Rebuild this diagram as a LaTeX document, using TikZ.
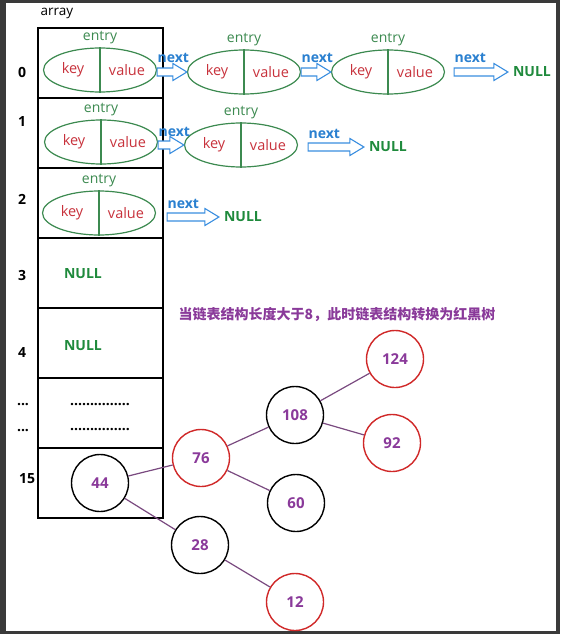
\documentclass[tikz,border=0pt]{standalone}
\usepackage{fontspec}
\setmainfont{Open Sans}
\newfontfamily\cjk{Noto Sans CJK SC}
\usetikzlibrary{shapes.geometric,positioning,calc}
\definecolor{framegray}{HTML}{3A3A3A}
\definecolor{entrygreen}{HTML}{3C8A50}
\definecolor{keyred}{HTML}{C8323C}
\definecolor{nextblue}{HTML}{2A80D0}
\definecolor{arrowblue}{HTML}{3A8EE0}
\definecolor{nullgreen}{HTML}{1F8A3C}
\definecolor{rbred}{HTML}{D02828}
\definecolor{edgepurple}{HTML}{7A4A80}
\definecolor{numpurple}{HTML}{8A3A9A}
\tikzset{cell/.style={draw,line width=1.2pt,minimum width=125pt,minimum height=70pt,
        outer sep=0pt,inner sep=0pt},
    idx/.style={font=\fontsize{14}{16}\selectfont\bfseries},
    kv/.style={ellipse,draw=entrygreen,line width=1.2pt,minimum width=113pt,
        minimum height=44pt,inner sep=0pt},
    kvline/.style={draw=entrygreen,line width=1.2pt},
    keytxt/.style={text=keyred,font=\fontsize{14.5}{16}\selectfont},
    entrytxt/.style={text=entrygreen,font=\fontsize{14}{16}\selectfont},
    nexttxt/.style={text=nextblue,inner sep=0pt,font=\fontsize{14}{16}\selectfont\bfseries},
    nextbox/.style={draw=arrowblue,line width=1.1pt,fill=white,line join=miter},
    nulltxt/.style={text=nullgreen,inner sep=1pt,font=\fontsize{14}{16}\selectfont\bfseries},
    rbnode/.style={circle,line width=1.4pt,minimum size=57pt,inner sep=0pt,
        text=numpurple,font=\fontsize{15}{16}\selectfont\bfseries},
    rbr/.style={rbnode,draw=rbred},
    rbb/.style={rbnode,draw=black},
    rbedge/.style={draw=edgepurple,line width=1.2pt}}
\newcommand\hentry[3]{%
    \node[kv] (#1) at (#2,#3) {};
    \draw[kvline] (#1.north) -- (#1.south);
    \node[keytxt] at ([xshift=-27pt]#1.center) {key};
    \node[keytxt] at ([xshift=27pt]#1.center) {value};
    \node[entrytxt] at ([yshift=9.5pt]#1.north) {entry};}
\newcommand\nextarrow[2]{%
    \draw[nextbox] let \p1=#1, \p2=#2 in
    (\x1,\y2+4pt) -- (\x2-14pt,\y2+4pt) -- (\x2-14pt,\y2+8.5pt) -- (\x2,\y2)
    -- (\x2-14pt,\y2-8.5pt) -- (\x2-14pt,\y2-4pt) -- (\x1,\y2-4pt) -- cycle
    (\x1,\y2+9pt) node[nexttxt,anchor=base west] {next};}

\begin{document}
\begin{tikzpicture}[x=1pt,y=-1pt]
\useasboundingbox (0,0) rectangle (560,634);
\fill[framegray] (0,0) rectangle (560,634);
\fill[white] (6,3) rectangle (556,631);

% array
\node[font=\fontsize{13.5}{16}\selectfont] (arr) at (57,13) {array};
\node[cell] (c0) at (100.5,63) {};
\foreach \i [remember=\i as \j (initially 0)] in {1,...,6}
    \node[cell,below=0pt of c\j] (c\i) {};
\node[idx] (i0) at (22,72) {0};
\node[idx] (i1) at (22,122) {1};
\node[idx] (i2) at (22,199) {2};
\node[idx] (i3) at (22,275) {3};
\node[idx] (i4) at (22,352) {4};
\node[idx] (id1) at (23,405) {...};
\node[idx] (id2) at (23,431) {...};
\node[idx] (i15) at (27,479) {15};
\node[nulltxt] (n3) at (83,274) {NULL};
\node[nulltxt] (n4) at (83,346) {NULL};
\node[idx] (d1) at (100,405) {...............};
\node[idx] (d2) at (100,430) {...............};

% entries
\hentry{e00}{100}{70}
\hentry{e01}{244}{72}
\hentry{e02}{388}{72}
\hentry{e10}{101}{142}
\hentry{e11}{241}{145}
\hentry{e20}{99}{213}
\node[nulltxt] (n0) at (532,72) {NULL};
\node[nulltxt] (n1) at (388,147) {NULL};
\node[nulltxt] (n2) at (243,217) {NULL};
\nextarrow{(e00.east)}{(e01.west)}
\nextarrow{(e01.east)}{(e02.west)}
\nextarrow{([xshift=9pt]e02.east)}{([xshift=-4pt]n0.west)}
\nextarrow{(e10.east)}{(e11.west)}
\nextarrow{([xshift=10pt]e11.east)}{([xshift=-4pt]n1.west)}
\nextarrow{([xshift=11pt]e20.east)}{([xshift=-4pt]n2.west)}

\node[text=numpurple,font=\fontsize{14}{16}\selectfont\cjk\bfseries] (note) at (337,315)
    {当链表结构长度大于8，此时链表结构转换为红黑树};

% red-black tree
\node[rbb] (t44) at (100,483) {44};
\node[rbr] (t76) at (201,458) {76};
\node[rbb] (t28) at (200,545) {28};
\node[rbr] (t12) at (295,602) {12};
\node[rbb] (t108) at (295,415) {108};
\node[rbb] (t60) at (296,503) {60};
\node[rbr] (t124) at (395,359) {124};
\node[rbr] (t92) at (392,443) {92};
\draw[rbedge] (t44) -- (t76);
\draw[rbedge] (t44) -- (t28);
\draw[rbedge] (t28) -- (t12);
\draw[rbedge] (t76) -- (t108);
\draw[rbedge] (t76) -- (t60);
\draw[rbedge] (t108) -- (t124);
\draw[rbedge] (t108) -- (t92);
\end{tikzpicture}
\end{document}
